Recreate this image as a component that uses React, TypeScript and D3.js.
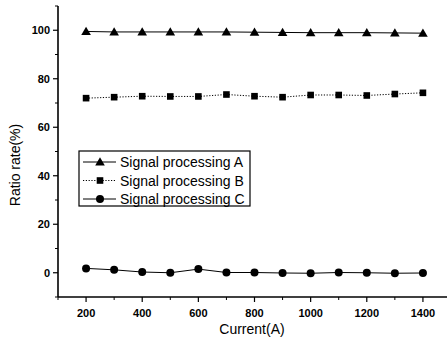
import React from "react";
import * as d3 from "d3";

// Current (A) on the x axis
const currents = [200, 300, 400, 500, 600, 700, 800, 900, 1000, 1100, 1200, 1300, 1400];
// ratio rate (%) per signal processing method
const seriesA = [99.5, 99.3, 99.3, 99.3, 99.3, 99.3, 99.2, 99.1, 99.0, 99.0, 99.0, 98.9, 98.8];
const seriesB = [72.0, 72.4, 72.8, 72.7, 72.7, 73.5, 72.8, 72.4, 73.3, 73.3, 73.1, 73.7, 74.2];
const seriesC = [1.8, 1.2, 0.3, 0.0, 1.5, 0.1, 0.1, -0.1, -0.2, 0.1, 0.0, -0.2, -0.1];
const seriesNames = ["Signal processing A", "Signal processing B", "Signal processing C"];
const xTicks = [200, 400, 600, 800, 1000, 1200, 1400];
const xMinor = [100, 300, 500, 700, 900, 1100, 1300, 1500];
const yTicks = [0, 20, 40, 60, 80, 100];
const yMinor = [-10, 10, 30, 50, 70, 90, 110];

const W = 447, H = 345;
const left = 58, right = 447, top = 6, bottom = 297;
const font = "Arial, 'Liberation Sans', sans-serif";

const Marker = ({ kind, x, y }: { kind: string; x: number; y: number }) => {
  if (kind === "tri")
    return <path d={d3.symbol(d3.symbolTriangle, 40)()!} transform={`translate(${x},${y + 0.8})`} fill="#000" />;
  if (kind === "sq")
    return <rect x={x - 3.3} y={y - 3.3} width={6.6} height={6.6} fill="#000" />;
  return <circle cx={x} cy={y} r={4} fill="#000" />;
};

export default function App() {
  const x = d3.scaleLinear().domain([100, 1500]).range([left, 451]);
  const y = d3.scaleLinear().domain([-10, 110]).range([bottom, top]);

  const all = [
    { vals: seriesA, kind: "tri", dash: undefined },
    { vals: seriesB, kind: "sq", dash: "1.2,1.6" },
    { vals: seriesC, kind: "circ", dash: undefined },
  ];

  const line = d3
    .line<number>()
    .x((_, i) => x(currents[i]))
    .y((d) => y(d));

  const legX = 79, legY = 151, legW = 171, legH = 55;

  return (
    <svg width={W} height={H} style={{ position: "absolute", left: 0, top: 0, background: "#fff" }}>
      {/* axes */}
      <line x1={left} x2={left} y1={y(110)} y2={bottom} stroke="#000" strokeWidth={1.6} />
      <line x1={left} x2={right} y1={bottom} y2={bottom} stroke="#000" strokeWidth={1.6} />
      {yTicks.map((t) => (
        <g key={"y" + t}>
          <line x1={left - 5} x2={left} y1={y(t)} y2={y(t)} stroke="#000" strokeWidth={1.2} />
          <text x={left - 8} y={y(t) + 4} textAnchor="end" fontSize={11} fontFamily={font} fontWeight="bold">
            {t}
          </text>
        </g>
      ))}
      {yMinor.map((t) => (
        <line key={"ym" + t} x1={left - 3} x2={left} y1={y(t)} y2={y(t)} stroke="#000" strokeWidth={1} />
      ))}
      {xTicks.map((t) => (
        <g key={"x" + t}>
          <line x1={x(t)} x2={x(t)} y1={bottom} y2={bottom + 5} stroke="#000" strokeWidth={1.2} />
          <text x={x(t)} y={bottom + 20} textAnchor="middle" fontSize={11} fontFamily={font} fontWeight="bold">
            {t}
          </text>
        </g>
      ))}
      {xMinor.map((t) => (
        <line key={"xm" + t} x1={x(t)} x2={x(t)} y1={bottom} y2={bottom + 3} stroke="#000" strokeWidth={1} />
      ))}
      <text x={252} y={334} textAnchor="middle" fontSize={14} fontFamily={font}>
        Current(A)
      </text>
      <text
        transform={`translate(20,${165}) rotate(-90)`}
        textAnchor="middle"
        fontSize={14}
        fontFamily={font}
      >
        Ratio rate(%)
      </text>

      {/* series */}
      {all.map((s, si) => (
        <g key={"s" + si}>
          <path d={line(s.vals)!} fill="none" stroke="#000" strokeWidth={1} strokeDasharray={s.dash} />
          {s.vals.map((v, i) => (
            <Marker key={i} kind={s.kind} x={x(currents[i])} y={y(v)} />
          ))}
        </g>
      ))}

      {/* legend */}
      <rect x={legX} y={legY} width={legW} height={legH} fill="#fff" stroke="#000" strokeWidth={1.2} />
      {all.map((s, i) => {
        const ry = legY + 11 + i * 18.5;
        return (
          <g key={"l" + i}>
            <line x1={legX + 4} x2={legX + 37} y1={ry} y2={ry} stroke="#000" strokeWidth={1} strokeDasharray={s.dash} />
            <Marker kind={s.kind} x={legX + 21} y={ry} />
            <text x={legX + 41} y={ry + 5} fontSize={14} fontFamily={font}>
              {seriesNames[i]}
            </text>
          </g>
        );
      })}
    </svg>
  );
}
